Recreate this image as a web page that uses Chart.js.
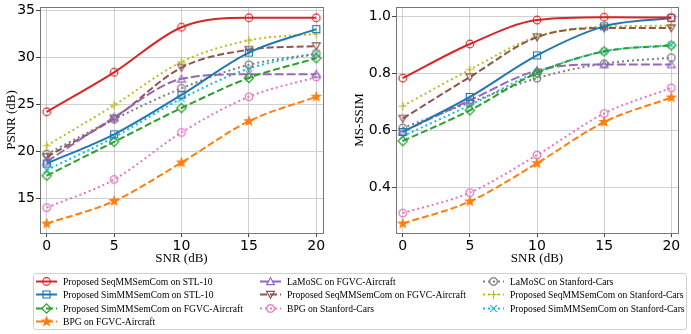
<!DOCTYPE html>
<html lang="en">
<head>
  <meta charset="UTF-8">
  <title>PSNR / MS-SSIM vs SNR</title>
  <script src="https://cdn.jsdelivr.net/npm/chart.js"></script>
  <style>
    body { margin: 0; background: #fff; width: 691px; height: 334px; position: relative; overflow: hidden; }
    .plot { position: absolute; top: 0; height: 268px; }
    #legend {
      position: absolute; left: 33px; top: 273px; width: 654px; height: 57px;
      border: 1px solid #d0d0d0; border-radius: 3px; box-sizing: border-box;
      font-family: 'Liberation Serif', serif; font-size: 9.6px; color: #000;
    }
    .item { position: absolute; display: flex; align-items: center; height: 13px; white-space: nowrap; }
    .item canvas { margin-right: 6px; }
  </style>
</head>
<body>

  <div class="plot" style="left:0; width:330px;"><canvas id="psnrChart"></canvas></div>
  <div class="plot" style="left:350px; width:335px;"><canvas id="ssimChart"></canvas></div>
  <div id="legend"></div>

  <script>
    // x values
    const snr = [0, 5, 10, 15, 20];

    const seriesNames = [
      'Proposed SeqMMSemCom on STL-10',
      'Proposed SimMMSemCom on STL-10',
      'Proposed SimMMSemCom on FGVC-Aircraft',
      'BPG on FGVC-Aircraft',
      'LaMoSC on FGVC-Aircraft',
      'Proposed SeqMMSemCom on FGVC-Aircraft',
      'BPG on Stanford-Cars',
      'LaMoSC on Stanford-Cars',
      'Proposed SeqMMSemCom on Stanford-Cars',
      'Proposed SimMMSemCom on Stanford-Cars'
    ];

    // PSNR (dB)
    const psnrSeqStl    = [24.2, 28.4, 33.2, 34.2, 34.2];
    const psnrSimStl    = [18.7, 21.8, 26.0, 30.5, 33.0];
    const psnrSimFgvc   = [17.4, 21.0, 24.6, 27.8, 29.9];
    const psnrBpgFgvc   = [12.3, 14.7, 18.8, 23.2, 25.8];
    const psnrLamoFgvc  = [18.9, 23.6, 27.7, 28.2, 28.2];
    const psnrSeqFgvc   = [19.4, 23.5, 28.9, 30.8, 31.2];
    const psnrBpgCars   = [14.0, 17.0, 22.0, 25.8, 27.9];
    const psnrLamoCars  = [19.7, 23.4, 26.7, 29.2, 30.4];
    const psnrSeqCars   = [20.6, 24.9, 29.5, 31.8, 32.5];
    const psnrSimCars   = [18.0, 21.5, 25.6, 28.8, 30.4];

    // MS-SSIM
    const ssimSeqStl    = [0.783, 0.903, 0.987, 0.997, 0.996];
    const ssimSimStl    = [0.594, 0.717, 0.863, 0.965, 0.994];
    const ssimSimFgvc   = [0.562, 0.670, 0.801, 0.877, 0.898];
    const ssimBpgFgvc   = [0.272, 0.350, 0.484, 0.629, 0.715];
    const ssimLamoFgvc  = [0.595, 0.705, 0.810, 0.831, 0.831];
    const ssimSeqFgvc   = [0.641, 0.787, 0.927, 0.959, 0.959];
    const ssimBpgCars   = [0.309, 0.381, 0.513, 0.659, 0.749];
    const ssimLamoCars  = [0.608, 0.697, 0.783, 0.834, 0.855];
    const ssimSeqCars   = [0.685, 0.813, 0.929, 0.964, 0.967];
    const ssimSimCars   = [0.579, 0.688, 0.804, 0.877, 0.900];

    const psnrSeries = [psnrSeqStl, psnrSimStl, psnrSimFgvc, psnrBpgFgvc, psnrLamoFgvc,
                        psnrSeqFgvc, psnrBpgCars, psnrLamoCars, psnrSeqCars, psnrSimCars];
    const ssimSeries = [ssimSeqStl, ssimSimStl, ssimSimFgvc, ssimBpgFgvc, ssimLamoFgvc,
                        ssimSeqFgvc, ssimBpgCars, ssimLamoCars, ssimSeqCars, ssimSimCars];

    const psnrTicks = [15, 20, 25, 30, 35];
    const ssimTicks = [0.4, 0.6, 0.8, 1.0];

    // look of each series (matplotlib tab10)
    const DASH = [7, 3], DOT = [2, 3];
    const styles = [
      { color: '#d62728', dash: [],   marker: 'circle' },
      { color: '#1f77b4', dash: [],   marker: 'square' },
      { color: '#2ca02c', dash: DASH, marker: 'diamond' },
      { color: '#ff7f0e', dash: DASH, marker: 'star' },
      { color: '#9467bd', dash: [9, 3], marker: 'triUp' },
      { color: '#8c564b', dash: DASH, marker: 'triDown' },
      { color: '#e377c2', dash: DOT,  marker: 'octagon' },
      { color: '#7f7f7f', dash: DOT,  marker: 'octagon' },
      { color: '#bcbd22', dash: DOT,  marker: 'plus' },
      { color: '#17becf', dash: DOT,  marker: 'x' }
    ];

    function polygon(g, x, y, n, r, rot) {
      for (let i = 0; i < n; i++) {
        const a = rot + i * 2 * Math.PI / n;
        const px = x + r * Math.cos(a), py = y + r * Math.sin(a);
        if (i === 0) g.moveTo(px, py); else g.lineTo(px, py);
      }
      g.closePath();
    }

    function drawMarker(g, shape, color, x, y) {
      g.save();
      g.setLineDash([]);
      g.strokeStyle = color;
      g.fillStyle = color;
      g.lineWidth = 1.2;
      g.beginPath();
      switch (shape) {
        case 'circle': g.arc(x, y, 3.8, 0, 2 * Math.PI); break;
        case 'square': g.rect(x - 3.5, y - 3.5, 7, 7); break;
        case 'diamond': polygon(g, x, y, 4, 4.7, -Math.PI / 2); break;
        case 'triUp': polygon(g, x, y + 0.8, 3, 4.5, -Math.PI / 2); break;
        case 'triDown': polygon(g, x, y - 0.8, 3, 4.5, Math.PI / 2); break;
        case 'octagon': polygon(g, x, y, 8, 4, Math.PI / 8); break;
        case 'star':
          for (let i = 0; i < 10; i++) {
            const r = i % 2 === 0 ? 4.4 : 1.9;
            const a = -Math.PI / 2 + i * Math.PI / 5;
            const px = x + r * Math.cos(a), py = y + r * Math.sin(a);
            if (i === 0) g.moveTo(px, py); else g.lineTo(px, py);
          }
          g.closePath();
          g.fill();
          break;
        case 'plus':
          g.moveTo(x - 4.3, y); g.lineTo(x + 4.3, y);
          g.moveTo(x, y - 4.3); g.lineTo(x, y + 4.3);
          break;
        case 'x':
          g.moveTo(x - 3.3, y - 3.3); g.lineTo(x + 3.3, y + 3.3);
          g.moveTo(x + 3.3, y - 3.3); g.lineTo(x - 3.3, y + 3.3);
          break;
      }
      g.stroke();
      g.restore();
    }

    function markerImage(shape, color) {
      const c = document.createElement('canvas');
      c.width = 14; c.height = 14;
      drawMarker(c.getContext('2d'), shape, color, 7, 7);
      return c;
    }

    function makeDatasets(series) {
      return series.map((vals, i) => ({
        label: seriesNames[i],
        data: snr.map((s, k) => ({ x: s, y: vals[k] })),
        borderColor: styles[i].color,
        backgroundColor: styles[i].color,
        borderWidth: 2,
        borderDash: styles[i].dash,
        cubicInterpolationMode: 'monotone',
        pointStyle: markerImage(styles[i].marker, styles[i].color),
        pointRadius: 5,
        clip: false
      }));
    }

    function fixWidth(w) {
      return scale => { scale.width = w; scale.paddingTop = 0; scale.paddingBottom = 0; };
    }
    function fixHeight(h) {
      return scale => { scale.height = h; scale.paddingLeft = 0; scale.paddingRight = 0; };
    }

    // full box around the plot area (top and right spines too)
    const frame = {
      id: 'frame',
      afterDatasetsDraw(chart) {
        const { ctx, chartArea: a } = chart;
        ctx.save();
        ctx.strokeStyle = '#777';
        ctx.lineWidth = 1;
        ctx.strokeRect(Math.round(a.left) + 0.5, Math.round(a.top) + 0.5,
                       Math.round(a.right - a.left), Math.round(a.bottom - a.top));
        ctx.restore();
      }
    };

    const tickFont = { family: 'DejaVu Sans', size: 14 };
    const titleFont = { family: 'Liberation Serif', size: 13 };
    const gridStyle = {
      color: '#c4c4c4', borderDash: [3, 3], lineWidth: 0.8,
      tickColor: '#444', tickBorderDash: [], tickLength: 4, tickWidth: 1
    };

    function makeChart(id, series, ticks, yMin, yMax, yTitle, yWidth, titlePad, fmt) {
      return new Chart(document.getElementById(id), {
        type: 'line',
        data: { datasets: makeDatasets(series) },
        plugins: [frame],
        options: {
          responsive: true,
          maintainAspectRatio: false,
          animation: false,
          events: [],
          layout: { padding: { top: 6, right: 5, left: 0, bottom: 0 } },
          plugins: { legend: { display: false }, tooltip: { enabled: false } },
          scales: {
            x: {
              type: 'linear', min: -0.5, max: 20.5,
              afterBuildTicks: scale => { scale.ticks = snr.map(v => ({ value: v })); },
              afterFit: fixHeight(35),
              border: { color: '#777', width: 1 },
              grid: gridStyle,
              ticks: { font: tickFont, color: '#000', padding: 1, maxRotation: 0 },
              title: { display: true, text: 'SNR (dB)', font: titleFont, color: '#000', padding: { top: 0, bottom: 2 } }
            },
            y: {
              type: 'linear', min: yMin, max: yMax,
              afterBuildTicks: scale => { scale.ticks = ticks.map(v => ({ value: v })); },
              afterFit: fixWidth(yWidth),
              border: { color: '#777', width: 1 },
              grid: gridStyle,
              ticks: { font: tickFont, color: '#000', padding: 1, callback: fmt },
              title: { display: true, text: yTitle, font: titleFont, color: '#000', padding: { top: titlePad, bottom: 0 } }
            }
          }
        }
      });
    }

    makeChart('psnrChart', psnrSeries, psnrTicks, 11.3, 35.35, 'PSNR (dB)', 40, 4, v => String(v));
    makeChart('ssimChart', ssimSeries, ssimTicks, 0.239, 1.033, 'MS-SSIM', 46, 2, v => v.toFixed(1));

    // legend: three columns filled top to bottom
    const legendCols = [[0, 1, 2, 3], [4, 5, 6], [7, 8, 9]];
    const colLeft = [2, 226, 449];
    const rowTop = [1, 14, 28, 41];
    const legend = document.getElementById('legend');
    legendCols.forEach((col, c) => {
      col.forEach((idx, r) => {
        const item = document.createElement('div');
        item.className = 'item';
        item.style.left = colLeft[c] + 'px';
        item.style.top = rowTop[r] + 'px';
        const h = document.createElement('canvas');
        h.width = 21; h.height = 13;
        const g = h.getContext('2d');
        g.strokeStyle = styles[idx].color;
        g.lineWidth = 2;
        g.setLineDash(styles[idx].dash);
        g.beginPath(); g.moveTo(0, 6.5); g.lineTo(21, 6.5); g.stroke();
        drawMarker(g, styles[idx].marker, styles[idx].color, 10.5, 6.5);
        const span = document.createElement('span');
        span.textContent = seriesNames[idx];
        item.appendChild(h);
        item.appendChild(span);
        legend.appendChild(item);
      });
    });
  </script>

</body>
</html>
